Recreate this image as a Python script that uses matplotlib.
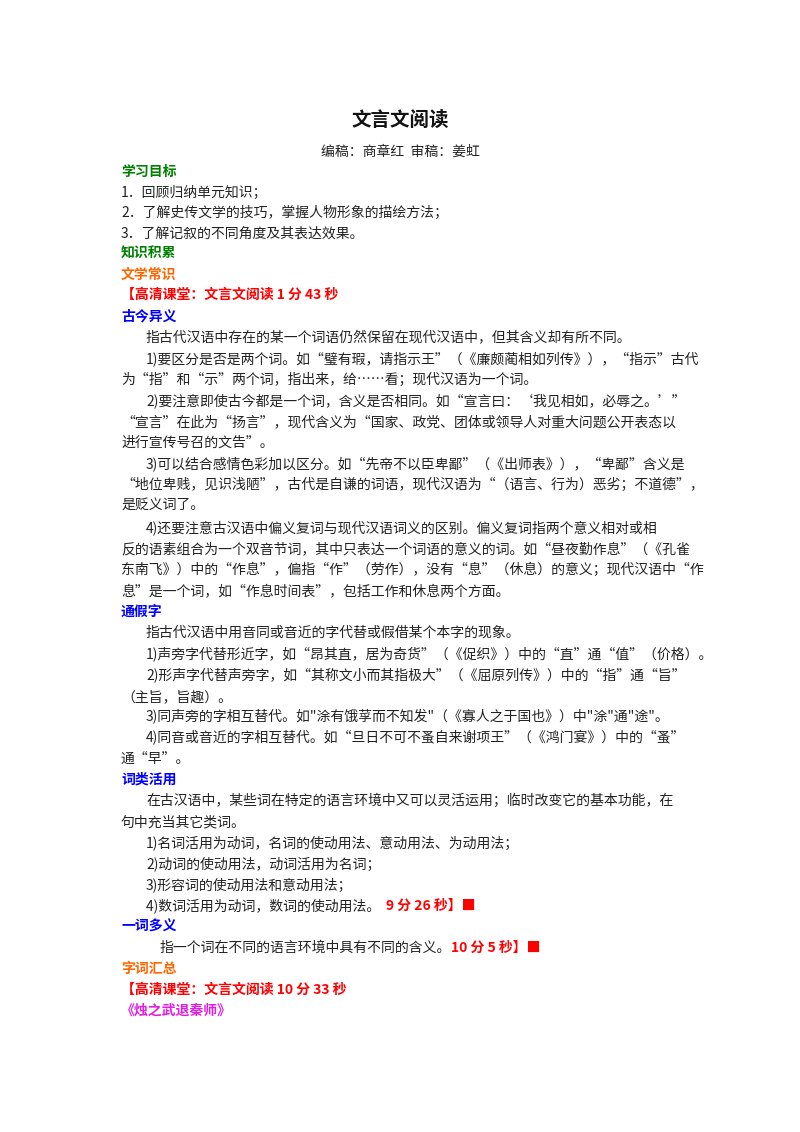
import matplotlib
matplotlib.use("Agg")
import matplotlib.pyplot as plt

plt.rcParams['font.family'] = ['Noto Sans CJK SC', 'DejaVu Sans']

W, H = 800, 1132
fig = plt.figure(figsize=(W/100, H/100), dpi=100)
fig.patch.set_facecolor('white')

BODY = '#222222'
GREEN = '#008000'
ORANGE = '#FF6600'
RED = '#FF0000'
BLUE = '#0000FF'
MAG = '#E020E0'

title = "文言文阅读"
subtitle = "编稿：商章红  审稿：姜虹"

# (y, x, [(text, color, bold)])
lines = [
    (172, 121, [("学习目标", GREEN, True)]),
    (193, 121, [("1．回顾归纳单元知识；", BODY, False)]),
    (213, 121, [("2．了解史传文学的技巧，掌握人物形象的描绘方法；", BODY, False)]),
    (234, 121, [("3．了解记叙的不同角度及其表达效果。", BODY, False)]),
    (254, 121, [("知识积累", GREEN, True)]),
    (275, 121, [("文学常识", ORANGE, True)]),
    (295, 121, [("【高清课堂：文言文阅读 1 分 43 秒", RED, True)]),
    (316, 121, [("古今异义", BLUE, True)]),
    (338, 146, [("指古代汉语中存在的某一个词语仍然保留在现代汉语中，但其含义却有所不同。", BODY, False)]),
    (359, 146, [("1)要区分是否是两个词。如“璧有瑕，请指示王”（《廉颇蔺相如列传》），“指示”古代", BODY, False)]),
    (380, 121, [("为“指”和“示”两个词，指出来，给……看；现代汉语为一个词。", BODY, False)]),
    (401, 146, [("2)要注意即使古今都是一个词，含义是否相同。如“宣言曰：‘我见相如，必辱之。’”", BODY, False)]),
    (422, 121, [("“宣言”在此为“扬言”，现代含义为“国家、政党、团体或领导人对重大问题公开表态以", BODY, False)]),
    (443, 121, [("进行宣传号召的文告”。", BODY, False)]),
    (464, 146, [("3)可以结合感情色彩加以区分。如“先帝不以臣卑鄙”（《出师表》），“卑鄙”含义是", BODY, False)]),
    (485, 121, [("“地位卑贱，见识浅陋”，古代是自谦的词语，现代汉语为“（语言、行为）恶劣；不道德”，", BODY, False)]),
    (506, 121, [("是贬义词了。", BODY, False)]),
    (528, 146, [("4)还要注意古汉语中偏义复词与现代汉语词义的区别。偏义复词指两个意义相对或相", BODY, False)]),
    (549, 121, [("反的语素组合为一个双音节词，其中只表达一个词语的意义的词。如“昼夜勤作息”（《孔雀", BODY, False)]),
    (570, 121, [("东南飞》）中的“作息”，偏指“作”（劳作），没有“息”（休息）的意义；现代汉语中“作", BODY, False)]),
    (591, 121, [("息”是一个词，如“作息时间表”，包括工作和休息两个方面。", BODY, False)]),
    (612, 121, [("通假字", BLUE, True)]),
    (633, 146, [("指古代汉语中用音同或音近的字代替或假借某个本字的现象。", BODY, False)]),
    (654, 146, [("1)声旁字代替形近字，如“昂其直，居为奇货”（《促织》）中的“直”通“值”（价格）。", BODY, False)]),
    (675, 146, [("2)形声字代替声旁字，如“其称文小而其指极大”（《屈原列传》）中的“指”通“旨”", BODY, False)]),
    (697, 121, [("（主旨，旨趣）。", BODY, False)]),
    (717, 146, [("3)同声旁的字相互替代。如\"涂有饿莩而不知发\"（《寡人之于国也》）中\"涂\"通\"途\"。", BODY, False)]),
    (738, 146, [("4)同音或音近的字相互替代。如“旦日不可不蚤自来谢项王”（《鸿门宴》）中的“蚤”", BODY, False)]),
    (759, 121, [("通“早”。", BODY, False)]),
    (780, 121, [("词类活用", BLUE, True)]),
    (801, 146, [("在古汉语中，某些词在特定的语言环境中又可以灵活运用；临时改变它的基本功能，在", BODY, False)]),
    (822, 121, [("句中充当其它类词。", BODY, False)]),
    (843, 146, [("1)名词活用为动词，名词的使动用法、意动用法、为动用法；", BODY, False)]),
    (864, 146, [("2)动词的使动用法，动词活用为名词；", BODY, False)]),
    (885, 146, [("3)形容词的使动用法和意动用法；", BODY, False)]),
    (906, 146, [("4)数词活用为动词，数词的使动用法。  ", BODY, False), ("9 分 26 秒】■", RED, True)]),
    (927, 121, [("一词多义", BLUE, True)]),
    (948, 160, [("指一个词在不同的语言环境中具有不同的含义。", BODY, False), ("10 分 5 秒】■", RED, True)]),
    (969, 121, [("字词汇总", ORANGE, True)]),
    (990, 121, [("【高清课堂：文言文阅读 10 分 33 秒", RED, True)]),
    (1011, 121, [("《烛之武退秦师》", MAG, True)]),
]

fig.text(400/W, 1-120/H, title, ha='center', va='center', fontsize=14, fontweight='bold', color='#111111')
fig.text(400/W, 1-152/H, subtitle, ha='center', va='center', fontsize=10, color=BODY)

fig.canvas.draw()
renderer = fig.canvas.get_renderer()
for y, x, segs in lines:
    cx = x
    for txt, col, bold in segs:
        t = fig.text(cx/W, 1-y/H, txt, ha='left', va='center', fontsize=10,
                     fontweight='bold' if bold else 'normal', color=col)
        bb = t.get_window_extent(renderer)
        cx += bb.width

fig.savefig('out.png', dpi=100, facecolor='white')
